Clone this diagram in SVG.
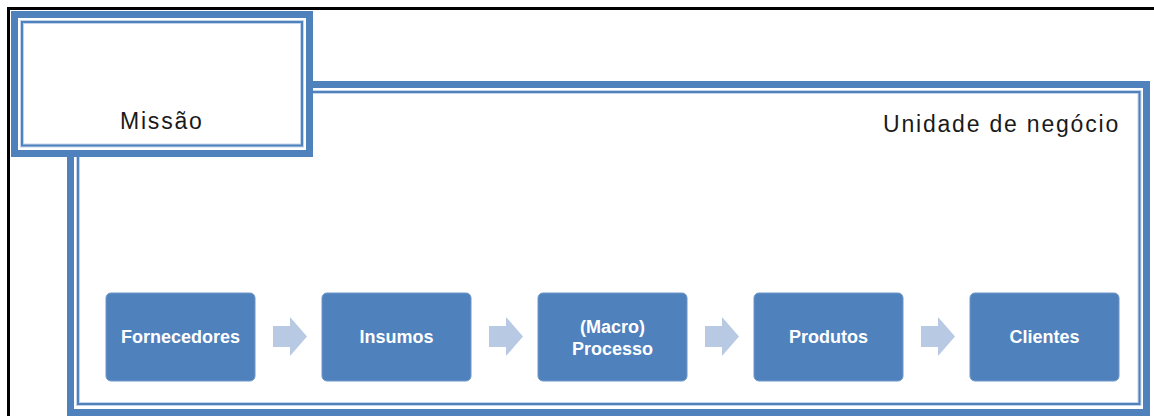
<svg xmlns="http://www.w3.org/2000/svg" width="1154" height="416" viewBox="0 0 1154 416">
  <style>
    .thick { fill: none; stroke: #4f81bd; stroke-width: 7; }
    .halo { fill: none; stroke: #c3d5ec; stroke-width: 4; }
    .thin { fill: none; stroke: #4f81bd; stroke-width: 2; }
    .label { font-family: "Liberation Sans", Arial, sans-serif; font-size: 23px; letter-spacing: 1.8px; fill: #1a1a1a; }
    .step rect { fill: #4f81bd; stroke: #6f97c8; stroke-width: 1; }
    .step text { font-family: "Liberation Sans", Arial, sans-serif; font-size: 18px; font-weight: bold; fill: #ffffff; text-anchor: middle; }
    .flow polygon { fill: #b7c9e3; }
  </style>
  <rect width="1154" height="416" fill="#ffffff"/>

  <!-- outer page frame -->
  <path d="M8.5 416 V8.5 H1154" fill="none" stroke="#000000" stroke-width="3"/>

  <!-- business unit container -->
  <g id="unidade">
    <rect class="thick" x="70.5" y="84.5" width="1076" height="328"/>
    <rect class="halo" x="78" y="92" width="1061.5" height="312"/>
    <rect class="thin" x="78" y="92" width="1061.5" height="312"/>
    <text class="label" x="883" y="132">Unidade de negócio</text>
  </g>

  <!-- mission box, overlapping the container corner -->
  <g id="missao">
    <rect x="14.5" y="14.5" width="295" height="139" fill="#ffffff"/>
    <rect class="thick" x="14.5" y="14.5" width="295" height="139"/>
    <rect class="halo" x="22" y="22" width="280" height="123.5"/>
    <rect class="thin" x="22" y="22" width="280" height="123.5"/>
    <text class="label" x="120" y="128.5">Missão</text>
  </g>

  <!-- process steps -->
  <g id="fornecedores" class="step">
    <rect x="106" y="293" width="149" height="88" rx="5"/>
    <text x="180.5" y="343">Fornecedores</text>
  </g>
  <g id="insumos" class="step">
    <rect x="322" y="293" width="149" height="88" rx="5"/>
    <text x="396.5" y="343">Insumos</text>
  </g>
  <g id="processo" class="step">
    <rect x="538" y="293" width="149" height="88" rx="5"/>
    <text x="612.5" y="332.5">(Macro)</text>
    <text x="612.5" y="354.5">Processo</text>
  </g>
  <g id="produtos" class="step">
    <rect x="754" y="293" width="149" height="88" rx="5"/>
    <text x="828.5" y="343">Produtos</text>
  </g>
  <g id="clientes" class="step">
    <rect x="970" y="293" width="149" height="88" rx="5"/>
    <text x="1044.5" y="343">Clientes</text>
  </g>

  <!-- connectors between steps -->
  <g id="connectors" class="flow">
    <polygon points="273,326 290,326 290,317 307,336.5 290,356 290,347 273,347"/>
    <polygon points="489,326 506,326 506,317 523,336.5 506,356 506,347 489,347"/>
    <polygon points="705,326 722,326 722,317 739,336.5 722,356 722,347 705,347"/>
    <polygon points="921,326 938,326 938,317 955,336.5 938,356 938,347 921,347"/>
  </g>
</svg>
